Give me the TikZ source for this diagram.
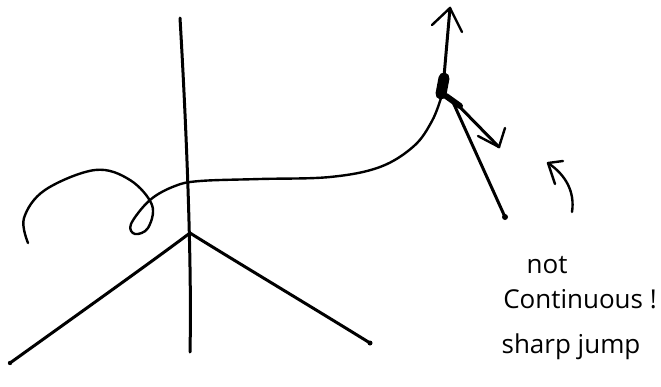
\documentclass[tikz,border=0pt]{standalone}
\usepackage{fontspec}
\setmainfont{Open Sans}
\begin{document}
\begin{tikzpicture}[x=1pt,y=-1pt,
  ink/.style={line width=3pt,line cap=round,line join=round},
  thin ink/.style={line width=2.4pt,line cap=round,line join=round},
  note/.style={font=\fontsize{26}{28}\selectfont,inner sep=0pt,anchor=center}]
\useasboundingbox (0,0) rectangle (661,386);
% axes
\coordinate (top) at (180,18);
\coordinate (bot) at (190,352);
\coordinate (v) at (190,233);
\coordinate (lft) at (10,363);
\coordinate (rgt) at (370,343);
\draw[ink] (top) .. controls (186,120) and (192,260) .. (bot);
\draw[ink] (v) .. controls (150,263) and (70,320) .. (lft);
\draw[ink] (v) .. controls (230,258) and (320,312) .. (rgt);
\fill (lft) circle (2.2);
\fill (rgt) circle (2.5);
% curve
\coordinate (blob) at (443,88);
\draw[thin ink] plot[smooth,tension=0.6] coordinates {(28,243) (24,218) (45,190) (95,170) (130,180) (152,205) (148,228) (135,234) (131,224) (150,200) (175,186) (200,181) (260,179) (330,177) (380,167) (414,146) (432,121) (441,98)};
% blob and arrows
\draw[line width=11pt,line cap=round] (441,94) -- (444,78);
\draw[line width=6pt,line cap=round] (446,96) -- (460,106);
\coordinate (uptip) at (450,8);
\draw[ink] (blob) -- (uptip);
\draw[thin ink] (432,25) -- (uptip) -- (462,32);
\coordinate (dnend) at (505,217);
\draw[ink] (452,100) -- (dnend);
\fill (dnend) circle (3);
\coordinate (stip) at (499,147);
\draw[ink] (452,99) -- (stip);
\draw[thin ink] (478,136) -- (stip) -- (505,128);
% curved arrow
\coordinate (ctip) at (548,163);
\draw[thin ink] (572,212) .. controls (575,192) and (566,175) .. (ctip);
\draw[thin ink] (555,184) -- (ctip) -- (563,161);
% text
\node[note] (t1) at (547,265) {not};
\node[note] (t2) at (580,299) {Continuous !};
\node[note] (t3) at (571,347) {sharp jump};
\end{tikzpicture}
\end{document}
